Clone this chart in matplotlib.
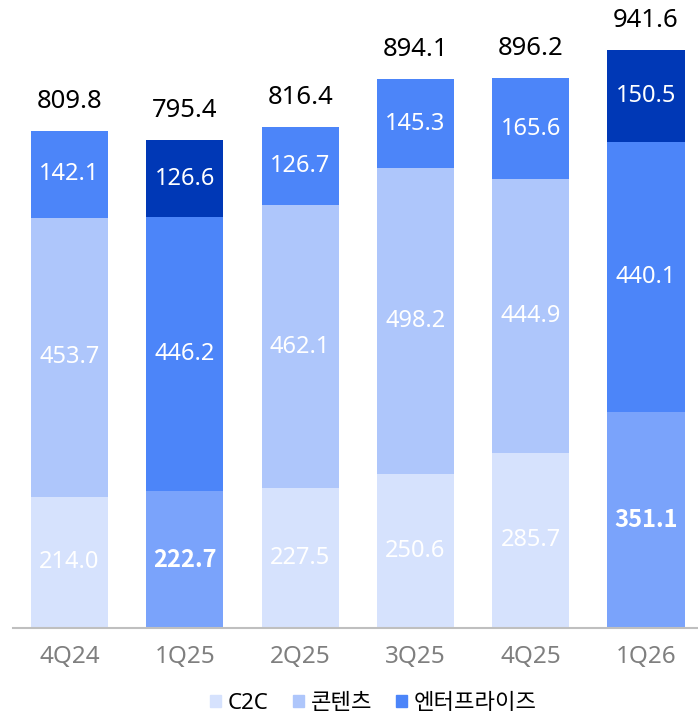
import matplotlib.pyplot as plt
import numpy as np

plt.rcParams['font.family'] = ['Noto Sans', 'Noto Sans CJK KR', 'DejaVu Sans']

quarters = ["4Q24", "1Q25", "2Q25", "3Q25", "4Q25", "1Q26"]
c2c = [214.0, 222.7, 227.5, 250.6, 285.7, 351.1]
contents = [453.7, 446.2, 462.1, 498.2, 444.9, 440.1]
enterprise = [142.1, 126.6, 126.7, 145.3, 165.6, 150.5]
totals = [809.8, 795.4, 816.4, 894.1, 896.2, 941.6]
series_names = ["C2C", "콘텐츠", "엔터프라이즈"]
highlight = ["1Q25", "1Q26"]

base_colors = ["#d6e2fd", "#aec6fb", "#4c85f9"]
hi_colors = ["#7aa3fb", "#4c85f9", "#0038b6"]

fig = plt.figure(figsize=(6.98, 7.18), dpi=100)
ax = fig.add_axes([13 / 698, 1 - 628 / 718, 685 / 698, 628 / 718])

x = np.arange(len(quarters))
width = 0.67
bottoms = np.zeros(len(quarters))
for i, vals in enumerate([c2c, contents, enterprise]):
    cols = [hi_colors[i] if q in highlight else base_colors[i] for q in quarters]
    ax.bar(x, vals, width, bottom=bottoms, color=cols, label=series_names[i])
    for j, (b, v) in enumerate(zip(bottoms, vals)):
        if quarters[j] in highlight and i == 0:
            # 강조 분기의 C2C 값은 굵게
            ax.text(x[j], b + v / 2, f"{v:.1f}", ha="center", va="center",
                    color="white", fontsize=17, fontweight="bold",
                    family=["Noto Sans CJK KR", "DejaVu Sans"])
        else:
            ax.text(x[j], b + v / 2, f"{v:.1f}", ha="center", va="center",
                    color="white", fontsize=17)
    bottoms += np.array(vals)

for j, t in enumerate(totals):
    ax.annotate(f"{t:.1f}", (x[j], t), xytext=(0, 12), textcoords="offset points",
                ha="center", va="bottom", fontsize=18.5, color="black")

ax.set_xlim(-0.49, 5.45)
ax.set_ylim(0, 1023)
ax.set_yticks([])
ax.set_xticks(x)
ax.set_xticklabels(quarters, fontsize=17.5, color="#7f7f7f")
ax.tick_params(axis="x", length=0, pad=12)
for s in ["top", "right", "left"]:
    ax.spines[s].set_visible(False)
ax.spines["bottom"].set_color("#bfbfbf")
ax.spines["bottom"].set_linewidth(1.5)

handles = [plt.Rectangle((0, 0), 1, 1, color=c) for c in base_colors]
fig.legend(handles, series_names, loc="lower center", bbox_to_anchor=(0.535, -0.022),
           ncol=3, frameon=False, fontsize=16, handlelength=0.5, handleheight=0.5,
           handletextpad=0.3, columnspacing=1.1)

fig.savefig("out.png", dpi=100)
